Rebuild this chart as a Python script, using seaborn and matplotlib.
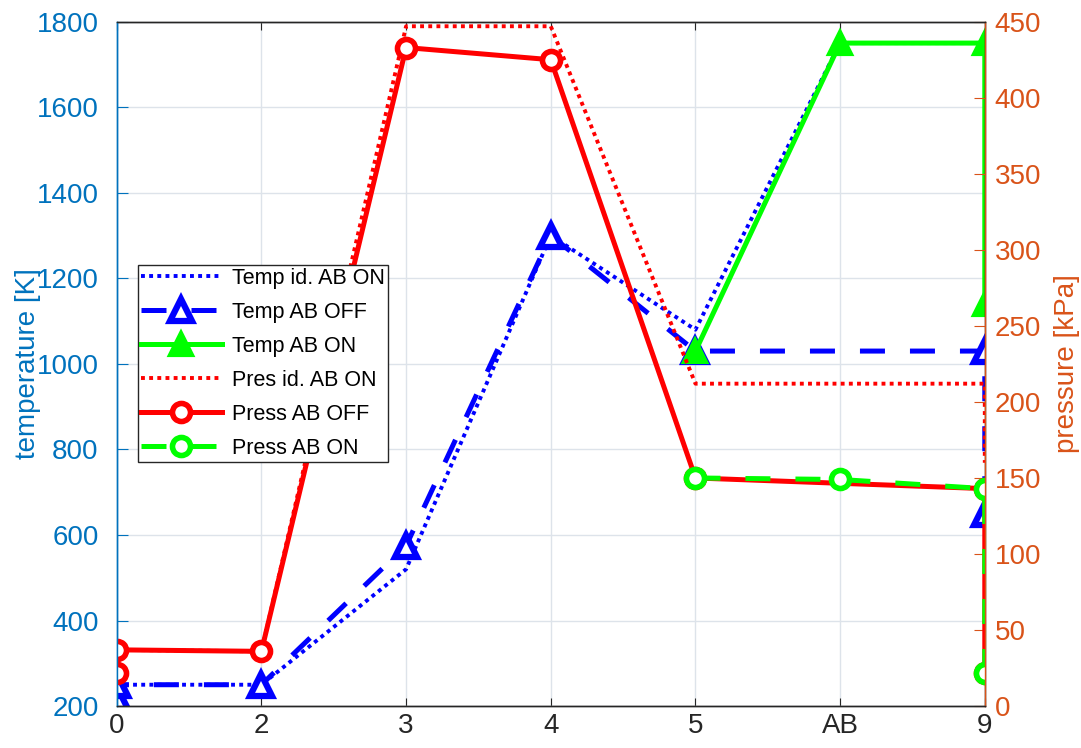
import matplotlib
matplotlib.use("Agg")
import matplotlib.pyplot as plt
import seaborn as sns
import pandas as pd

# stations along the engine
stations = ['0', '2', '3', '4', '5', 'AB', '9']

# temperature [K]
temp_id_x = ['0', '2', '3', '4', '5', 'AB', '9']
temp_id = [250, 250, 520, 1300, 1080, 1750, 1750]
temp_off_x = ['0', '0', '2', '3', '4', '5', '9', '9']
temp_off = [220, 250, 250, 575, 1300, 1030, 1030, 650]
temp_on_x = ['5', 'AB', '9', '9']
temp_on = [1030, 1750, 1750, 1140]

# pressure [kPa]
pres_id_x = ['0', '2', '3', '4', '5', 'AB', '9', '9']
pres_id = [37, 36, 447, 447, 212, 212, 212, 160]
pres_off_x = ['0', '0', '2', '3', '4', '5', '9', '9']
pres_off = [22, 37, 36, 433, 425, 150, 143, 22]
pres_on_x = ['5', 'AB', '9', '9']
pres_on = [150, 149, 143, 22]

mblue = '#0072BD'
morange = '#D95319'


def frame(xs, ys):
    return pd.DataFrame({'x': [stations.index(s) for s in xs], 'y': ys})


plt.rcParams['font.family'] = ['Liberation Sans', 'DejaVu Sans']
fig = plt.figure(figsize=(10.81, 7.48), dpi=100)
ax = fig.add_axes([0.108, 0.056, 0.803, 0.915])
ax2 = ax.twinx()

lw = 3.6
dots = (0, (1, 1.1))
dashes = (0, (5, 5))
sns.lineplot(data=frame(temp_id_x, temp_id), x='x', y='y', ax=ax, sort=False,
             estimator=None, color='blue', lw=2.8, ls=dots,
             label='Temp id. AB ON')
sns.lineplot(data=frame(temp_off_x, temp_off), x='x', y='y', ax=ax, sort=False,
             estimator=None, color='blue', lw=lw, ls=dashes,
             marker='^', ms=16, mfc='white', mec='blue', mew=4.5,
             label='Temp AB OFF')
sns.lineplot(data=frame(temp_on_x, temp_on), x='x', y='y', ax=ax, sort=False,
             estimator=None, color='#00FF00', lw=lw, marker='^', ms=16,
             mfc='#00FF00', mec='#00FF00', mew=3, label='Temp AB ON')

sns.lineplot(data=frame(pres_id_x, pres_id), x='x', y='y', ax=ax2, sort=False,
             estimator=None, color='red', lw=2.8, ls=dots,
             label='Pres id. AB ON')
sns.lineplot(data=frame(pres_off_x, pres_off), x='x', y='y', ax=ax2, sort=False,
             estimator=None, color='red', lw=lw, marker='o', ms=13,
             mfc='white', mec='red', mew=4, label='Press AB OFF')
sns.lineplot(data=frame(pres_on_x, pres_on), x='x', y='y', ax=ax2, sort=False,
             estimator=None, color='#00FF00', lw=lw, ls=dashes,
             marker='o', ms=13, mfc='white', mec='#00FF00', mew=4,
             label='Press AB ON')

ax.set_xlim(0, len(stations) - 1)
ax.set_ylim(200, 1800)
ax2.set_ylim(0, 450)
ax.set_xticks(range(len(stations)))
ax.set_xticklabels(stations)
ax.set_yticks(range(200, 1801, 200))
ax2.set_yticks(range(0, 451, 50))
ax.set_xlabel('')
ax.set_ylabel('temperature [K]', fontsize=20, color=mblue)
ax.yaxis.set_label_coords(-0.087, 0.5)
ax2.set_xlabel('')
ax2.set_ylabel('pressure [kPa]', fontsize=20, color=morange)
ax2.yaxis.set_label_coords(1.08, 0.5)

ax.grid(True, color='#dde3ea', lw=1)
ax.tick_params(axis='x', direction='in', top=True, labelsize=20,
               colors='#262626', pad=5, length=6)
ax.tick_params(axis='y', direction='in', labelsize=20, colors=mblue,
               length=8, pad=13)
ax2.tick_params(axis='y', direction='in', labelsize=20, colors=morange,
                length=8, pad=7)
ax.spines['left'].set_color(mblue)
ax2.spines['left'].set_color(mblue)
ax2.spines['right'].set_color(morange)
for a in (ax, ax2):
    a.spines['top'].set_color('#262626')
    a.spines['bottom'].set_color('#262626')
    for s in a.spines.values():
        s.set_linewidth(1)

h1, l1 = ax.get_legend_handles_labels()
h2, l2 = ax2.get_legend_handles_labels()
ax.get_legend().remove()
ax2.get_legend().remove()
leg = ax2.legend(h1 + h2, l1 + l2, loc='lower left',
                 bbox_to_anchor=(0.024, 0.357), fontsize=15.5, frameon=True,
                 fancybox=False, edgecolor='#262626', framealpha=1,
                 handlelength=3.75, borderpad=0.15, labelspacing=0.6,
                 handletextpad=0.47, borderaxespad=0)
leg.get_frame().set_linewidth(1)

fig.savefig('out.png', dpi=100)
